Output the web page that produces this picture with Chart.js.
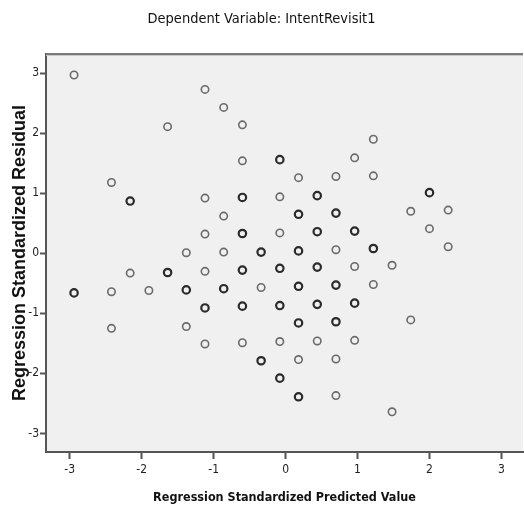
<!DOCTYPE html>
<html><head><meta charset="utf-8">
<script src="https://cdn.jsdelivr.net/npm/chart.js@4.4.1/dist/chart.umd.min.js"></script>
<style>html,body{margin:0;padding:0;background:#fff;}#wrap{width:524px;height:516px;position:relative;}</style>
</head><body><div id="wrap"><canvas id="c" width="524" height="516"></canvas></div>
<script>
const chartTitle = 'Dependent Variable: IntentRevisit1';
const xTitle = 'Regression Standardized Predicted Value';
const yTitle = 'Regression Standardized Residual';
const xTicks = [-3, -2, -1, 0, 1, 2, 3];
const yTicks = [-3, -2, -1, 0, 1, 2, 3];

// single cases (lighter circles)
const predicted = [-2.94, -2.42, -2.42, -2.42, -2.16, -1.90, -1.64, -1.38, -1.38, -1.12, -1.12, -1.12, -1.12, -1.12,
  -0.86, -0.86, -0.86, -0.60, -0.60, -0.60, -0.34, -0.08, -0.08, -0.08, 0.18, 0.18, 0.44, 0.70, 0.70, 0.70, 0.70,
  0.96, 0.96, 0.96, 1.22, 1.22, 1.22, 1.48, 1.48, 1.74, 1.74, 2.00, 2.26, 2.26];
const residual = [2.97, 1.18, -0.64, -1.25, -0.33, -0.62, 2.11, 0.01, -1.22, 2.73, 0.92, 0.32, -0.30, -1.51,
  2.43, 0.62, 0.02, 2.14, 1.54, -1.49, -0.57, 0.94, 0.34, -1.47, 1.26, -1.77, -1.46, 1.28, 0.06, -1.76, -2.37,
  1.59, -0.22, -1.45, 1.90, 1.29, -0.52, -0.20, -2.64, 0.70, -1.11, 0.41, 0.72, 0.11];

// overlapping cases (darker circles)
const predictedDense = [-2.94, -2.16, -1.64, -1.38, -1.12, -0.86, -0.60, -0.60, -0.60, -0.60, -0.34, -0.34,
  -0.08, -0.08, -0.08, -0.08, 0.18, 0.18, 0.18, 0.18, 0.18, 0.44, 0.44, 0.44, 0.44, 0.70, 0.70, 0.70, 0.96, 0.96, 1.22, 2.00];
const residualDense = [-0.66, 0.87, -0.32, -0.61, -0.91, -0.59, 0.93, 0.33, -0.28, -0.88, 0.02, -1.79,
  1.56, -0.25, -0.87, -2.08, 0.65, 0.04, -0.55, -1.16, -2.39, 0.96, 0.36, -0.23, -0.85, 0.67, -0.53, -1.14, 0.37, -0.83, 0.08, 1.01];

const toPts = (xs, ys) => xs.map((x, i) => ({ x: x, y: ys[i] }));
const FN = '"Liberation Sans Narrow", "Arial Narrow", "DejaVu Sans Condensed", "Liberation Sans", sans-serif';
const FB = '"Liberation Sans", Arial, sans-serif';

const framePlugin = {
  id: 'frame',
  beforeDraw(chart) {
    const { ctx, chartArea: a } = chart;
    ctx.save();
    ctx.fillStyle = '#f0f0f0';
    ctx.fillRect(a.left, a.top, a.right - a.left, a.bottom - a.top);
    ctx.restore();
  },
  afterDraw(chart) {
    const { ctx, chartArea: a } = chart;
    ctx.save();
    ctx.fillStyle = '#7a7a7a';
    ctx.fillRect(a.left, a.top - 1, a.right - a.left, 2);
    ctx.fillStyle = '#c8c8c8';
    ctx.fillRect(a.left, a.top + 1, a.right - a.left, 1);
    ctx.restore();
  }
};

new Chart(document.getElementById('c'), {
  type: 'scatter',
  data: {
    datasets: [
      { data: toPts(predicted, residual), pointStyle: 'circle', pointRadius: 3.7, pointBorderWidth: 1.6,
        borderColor: '#6a6a6a', backgroundColor: 'rgba(0,0,0,0)', pointHoverRadius: 3.7 },
      { data: toPts(predictedDense, residualDense), pointStyle: 'circle', pointRadius: 3.7, pointBorderWidth: 2.2,
        borderColor: '#2a2a2a', backgroundColor: 'rgba(0,0,0,0)', pointHoverRadius: 3.7 }
    ]
  },
  options: {
    responsive: false,
    animation: false,
    layout: { autoPadding: false, padding: { left: 0, right: 1, top: 0, bottom: 0 } },
    plugins: {
      legend: { display: false },
      tooltip: { enabled: false },
      title: { display: true, text: chartTitle, color: '#111',
        font: { family: FN, size: 14.5, weight: 'normal', lineHeight: 1.2 }, padding: { top: 11, bottom: 25.6 } }
    },
    scales: {
      x: {
        type: 'linear', min: -3.33, max: 3.30,
        afterBuildTicks: s => { s.ticks = xTicks.map(v => ({ value: v })); },
        afterFit: s => { s.height = 64; s.paddingLeft = 0; s.paddingRight = 0; },
        grid: { drawOnChartArea: false, drawTicks: true, tickLength: 7, tickWidth: 2, tickColor: '#555' },
        border: { display: true, color: '#555', width: 2 },
        ticks: { padding: 4, color: '#222', maxRotation: 0, font: { family: FN, size: 12 }, callback: v => String(v) },
        title: { display: true, text: xTitle, color: '#111',
          font: { family: FN, size: 12.5, weight: 'bold', lineHeight: 1.2 }, padding: { top: 0, bottom: 11 } }
      },
      y: {
        type: 'linear', min: -3.31, max: 3.32,
        afterBuildTicks: s => { s.ticks = yTicks.map(v => ({ value: v })); },
        afterFit: s => { s.width = 46; s.paddingTop = 0; s.paddingBottom = 0; },
        grid: { drawOnChartArea: false, drawTicks: true, tickLength: 6, tickWidth: 2, tickColor: '#555' },
        border: { display: true, color: '#555', width: 2 },
        ticks: { padding: 1, color: '#222', font: { family: FN, size: 12 }, callback: v => String(v) },
        title: { display: true, text: yTitle, color: '#111',
          font: { family: FB, size: 18, weight: 'bold', lineHeight: 1.2 }, padding: { top: 9, bottom: 0 } }
      }
    }
  },
  plugins: [framePlugin]
});
</script>
</body></html>
